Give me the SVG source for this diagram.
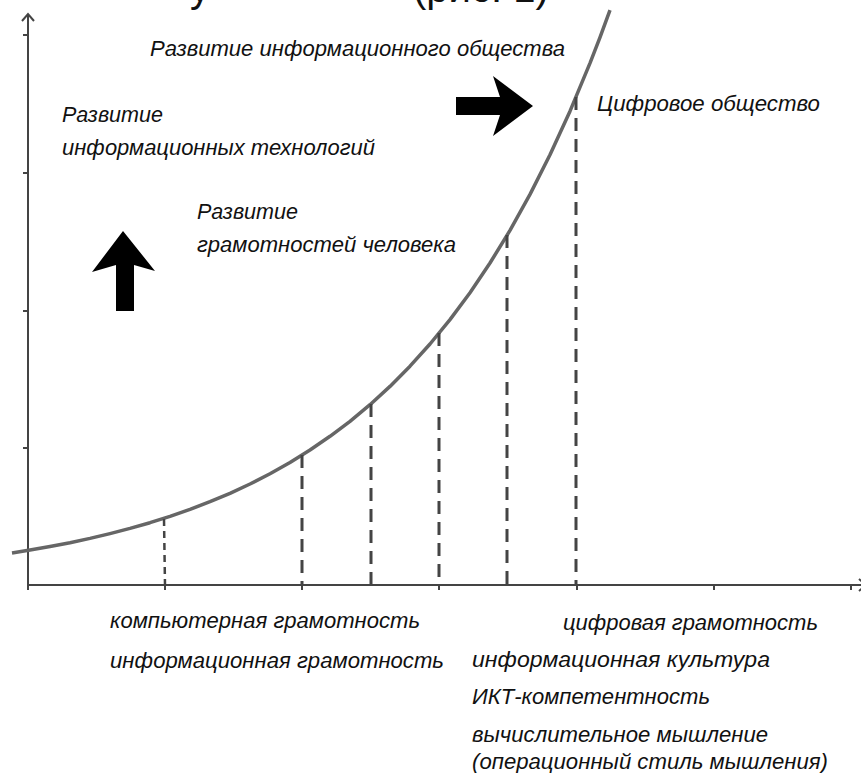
<svg xmlns="http://www.w3.org/2000/svg" width="861" height="773" viewBox="0 0 861 773">
<style>
.axis{stroke:#444;stroke-width:2;fill:none}
.tick{stroke:#444;stroke-width:2}
.curve{stroke:#666;stroke-width:3.5;fill:none;stroke-linejoin:round}
.dash{stroke:#444;stroke-width:3;stroke-dasharray:13 8;fill:none}
.dash-fine{stroke:#444;stroke-width:2.5;stroke-dasharray:7 5;fill:none}
.lbl{font-family:"Liberation Sans",Arial,sans-serif;font-style:italic;font-size:22px;fill:#111}
.head{font-family:"Liberation Sans",Arial,sans-serif;font-size:40px;fill:#111}
.big{fill:#000}
</style>
<rect width="861" height="773" fill="#fff"/>
<g id="heading-fragment">
<text class="head" x="190" y="2">у</text>
<text class="head" x="413" y="2">(рис. 1)</text>
</g>
<g id="axes">
<line class="axis" x1="28" y1="14" x2="28" y2="590"/>
<polyline class="axis" points="22,21 28,14 34,21"/>
<line class="axis" x1="28" y1="585" x2="866" y2="585"/>
<polyline class="axis" points="859,579 866,585 859,591"/>
<line class="tick" x1="23" y1="35" x2="28" y2="35"/>
<line class="tick" x1="23" y1="173" x2="28" y2="173"/>
<line class="tick" x1="23" y1="311" x2="28" y2="311"/>
<line class="tick" x1="23" y1="448" x2="28" y2="448"/>
<line class="tick" x1="165" y1="585" x2="165" y2="590"/>
<line class="tick" x1="302" y1="585" x2="302" y2="590"/>
<line class="tick" x1="439" y1="585" x2="439" y2="590"/>
<line class="tick" x1="577" y1="585" x2="577" y2="590"/>
<line class="tick" x1="714" y1="585" x2="714" y2="590"/>
<line class="tick" x1="851" y1="585" x2="851" y2="590"/>
</g>
<g id="curve">
<path class="curve" d="M12,553 L30,550.1 L50,546.5 L70,542.7 L90,538.4 L110,533.6 L130,528.4 L150,522.7 L170,516.4 L190,509.4 L210,501.7 L230,493.3 L250,484 L270,473.7 L290,462.5 L310,450 L330,436.3 L350,421.3 L370,404.7 L390,386.4 L410,366.2 L430,344 L450,319.6 L470,292.7 L490,263 L510,230.4 L530,194.4 L550,154.8 L570,111.2 L590,63.1 L600,37.3 L610,10.2"/>
</g>
<g id="connectors">
<line class="dash-fine" x1="164" y1="519" x2="165" y2="585"/>
<line class="dash" x1="302" y1="455" x2="302" y2="585"/>
<line class="dash" x1="371" y1="404" x2="371" y2="585"/>
<line class="dash" x1="439" y1="333" x2="439" y2="585"/>
<line class="dash" x1="507" y1="235" x2="507" y2="585"/>
<line class="dash" x1="576" y1="97" x2="576" y2="585"/>
</g>
<g id="arrow-up">
<path class="big" d="M116,311 L116,265 L92,272 L123,231 L155,271 L134,265 L134,311 Z"/>
</g>
<g id="arrow-right">
<path class="big" d="M456,97 L500,97 L493,76 L533,106 L493,136 L500,115 L456,115 Z"/>
</g>
<g id="label-society">
<text class="lbl" x="150" y="56" textLength="415" lengthAdjust="spacingAndGlyphs">Развитие информационного общества</text>
</g>
<g id="label-tech">
<text class="lbl" x="62" y="122" textLength="101" lengthAdjust="spacingAndGlyphs">Развитие</text>
<text class="lbl" x="62" y="155" textLength="313" lengthAdjust="spacingAndGlyphs">информационных технологий</text>
</g>
<g id="label-literacy">
<text class="lbl" x="197" y="219" textLength="101" lengthAdjust="spacingAndGlyphs">Развитие</text>
<text class="lbl" x="197" y="252" textLength="259" lengthAdjust="spacingAndGlyphs">грамотностей человека</text>
</g>
<g id="label-digital-society">
<text class="lbl" x="597" y="111" textLength="223" lengthAdjust="spacingAndGlyphs">Цифровое общество</text>
</g>
<g id="labels-bottom-left">
<text class="lbl" x="110" y="628" textLength="310" lengthAdjust="spacingAndGlyphs">компьютерная грамотность</text>
<text class="lbl" x="110" y="668" textLength="334" lengthAdjust="spacingAndGlyphs">информационная грамотность</text>
</g>
<g id="labels-bottom-right">
<text class="lbl" x="563" y="630" textLength="255" lengthAdjust="spacingAndGlyphs">цифровая грамотность</text>
<text class="lbl" x="472" y="667" textLength="298" lengthAdjust="spacingAndGlyphs">информационная культура</text>
<text class="lbl" x="472" y="704" textLength="238" lengthAdjust="spacingAndGlyphs">ИКТ-компетентность</text>
<text class="lbl" x="472" y="742" textLength="296" lengthAdjust="spacingAndGlyphs">вычислительное мышление</text>
<text class="lbl" x="472" y="769" textLength="356" lengthAdjust="spacingAndGlyphs">(операционный стиль мышления)</text>
</g>
</svg>
